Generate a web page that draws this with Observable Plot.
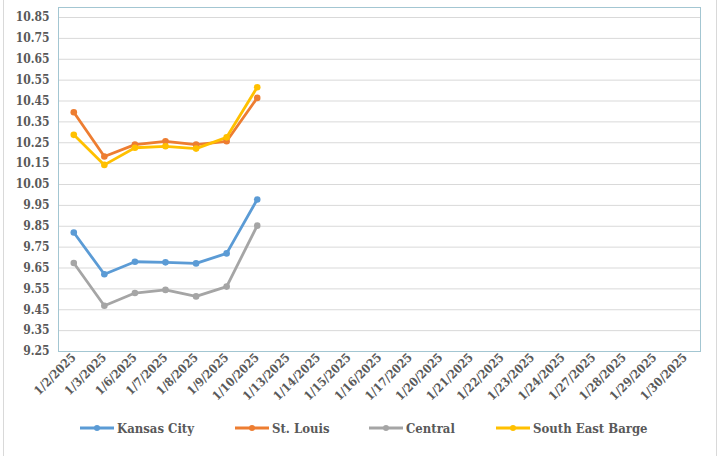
<!DOCTYPE html>
<html>
<head>
<meta charset="utf-8">
<script src="https://cdn.jsdelivr.net/npm/d3@7"></script>
<script src="https://cdn.jsdelivr.net/npm/@observablehq/plot@0.6"></script>
<style>
  html, body { margin: 0; padding: 0; background: #fff; }
  body { width: 718px; height: 456px; position: relative; overflow: hidden; font-family: 'DejaVu Serif Condensed', 'DejaVu Serif', serif; font-stretch: condensed; }
  #box { position: absolute; left: 3px; top: -2px; width: 712px; height: 470px; border-left: 1px solid #d9d9d9; border-right: 1px solid #d9d9d9; pointer-events: none; }
  #chart { position: absolute; left: 0; top: 0; }
  #chart svg text { font-family: 'DejaVu Serif Condensed', 'DejaVu Serif', serif !important; font-stretch: condensed; }
  #legend { position: absolute; left: 0; top: 418px; width: 718px; height: 20px; color: #595959; font-weight: bold; font-size: 13px; white-space: nowrap; }
  .item { position: absolute; top: 0; display: flex; align-items: center; gap: 3px; height: 20px; }
</style>
</head>
<body>
<div id="chart"></div>
<div id="legend"></div>
<div id="box"></div>
<script>
const dates = ["1/2/2025","1/3/2025","1/6/2025","1/7/2025","1/8/2025","1/9/2025","1/10/2025","1/13/2025","1/14/2025","1/15/2025","1/16/2025","1/17/2025","1/20/2025","1/21/2025","1/22/2025","1/23/2025","1/24/2025","1/27/2025","1/28/2025","1/29/2025","1/30/2025"];
const seriesNames = ["Kansas City", "St. Louis", "Central", "South East Barge"];
const seriesColors = ["#5B9BD5", "#ED7D31", "#A5A5A5", "#FFC000"];
const kansasCity = [9.82, 9.62, 9.68, 9.677, 9.672, 9.72, 9.978];
const stLouis = [10.396, 10.184, 10.241, 10.257, 10.241, 10.257, 10.465];
const central = [9.674, 9.469, 9.53, 9.545, 9.514, 9.561, 9.853];
const southEastBarge = [10.288, 10.144, 10.226, 10.233, 10.222, 10.276, 10.516];
const yTicks = [9.25, 9.35, 9.45, 9.55, 9.65, 9.75, 9.85, 9.95, 10.05, 10.15, 10.25, 10.35, 10.45, 10.55, 10.65, 10.75, 10.85];
const legendLeft = [80, 235, 369, 496];

const allSeries = [kansasCity, stLouis, central, southEastBarge];
const data = [];
allSeries.forEach((vals, si) => vals.forEach((v, i) => data.push({series: seriesNames[si], date: dates[i], value: v})));

const plot = Plot.plot({
  width: 718,
  height: 410,
  marginLeft: 58,
  marginRight: 18,
  marginTop: 7,
  marginBottom: 59,
  style: {fontFamily: "'DejaVu Serif Condensed', 'DejaVu Serif', serif", background: "transparent"},
  x: {type: "point", domain: dates, padding: 0.5, round: false},
  y: {domain: [9.25, 10.898]},
  color: {domain: seriesNames, range: seriesColors},
  marks: [
    Plot.gridY(yTicks, {stroke: "#d9d9d9", strokeOpacity: 1, strokeWidth: 1}),
    Plot.frame({stroke: "#a3c6d2", strokeWidth: 1}),
    Plot.line(data, {x: "date", y: "value", z: "series", stroke: "series", strokeWidth: 2.8, strokeLinejoin: "round"}),
    Plot.dot(data, {x: "date", y: "value", fill: "series", r: 3.3}),
    Plot.axisY({ticks: yTicks, tickSize: 0, tickPadding: 9, tickFormat: d3.format(".2f"), fontSize: 12, fontWeight: "bold", fill: "#595959", label: null}),
    Plot.axisX({tickSize: 0, tickPadding: 4, tickRotate: -45, fontSize: 12, fontWeight: "bold", fill: "#595959", label: null})
  ]
});
document.getElementById("chart").appendChild(plot);

const legend = document.getElementById("legend");
seriesNames.forEach((name, i) => {
  const item = document.createElement("div");
  item.className = "item";
  item.style.left = legendLeft[i] + "px";
  item.innerHTML = `<svg width="34" height="10"><line x1="0" y1="5" x2="34" y2="5" stroke="${seriesColors[i]}" stroke-width="3"/><circle cx="17" cy="5" r="3" fill="${seriesColors[i]}"/></svg><span>${name}</span>`;
  legend.appendChild(item);
});
</script>
</body>
</html>
